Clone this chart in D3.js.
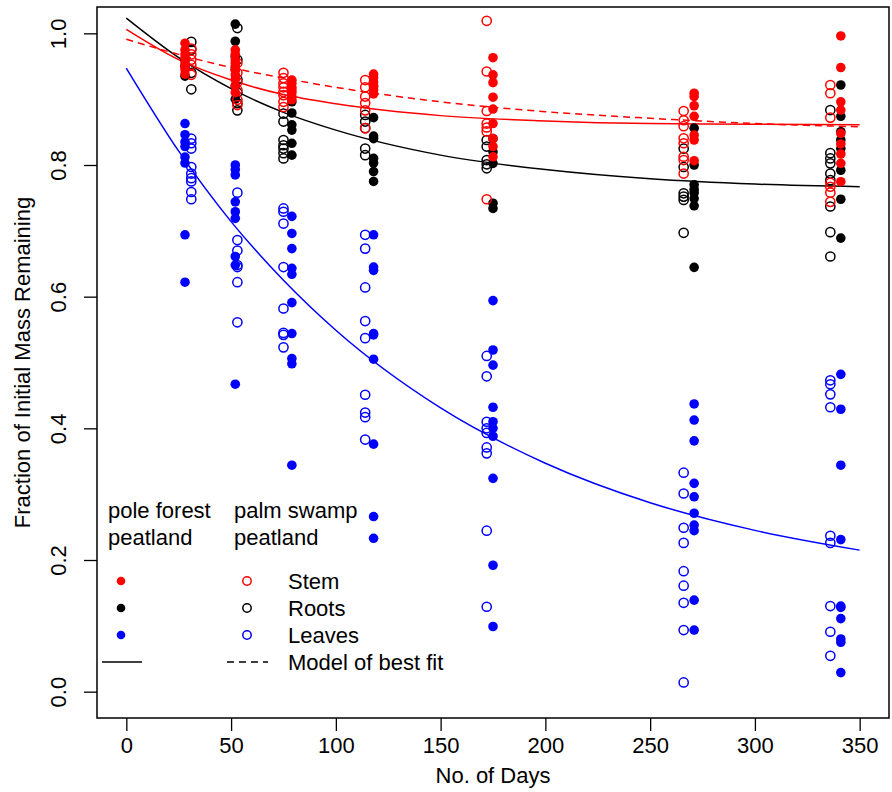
<!DOCTYPE html>
<html>
<head>
<meta charset="utf-8">
<script src="https://cdn.jsdelivr.net/npm/d3@7"></script>
<style>
  body { margin: 0; background: #fff; }
  text { font-family: "Liberation Sans", Arial, sans-serif; }
</style>
</head>
<body>
<svg id="graph" width="892" height="792"></svg>
<script>
// sampling days (pole forest points sit a little right of palm swamp points)
const poleDays = [28, 52, 79, 118, 175, 271, 341];
const swampDays = [31, 53, 75, 114, 172, 266, 336];

// fraction of initial mass remaining, one array per sampling date
const poleStem = [
  [0.985, 0.975, 0.968, 0.962, 0.955, 0.950, 0.945, 0.938],
  [0.975, 0.968, 0.960, 0.955, 0.950, 0.944, 0.937, 0.930, 0.920, 0.910],
  [0.929, 0.924, 0.918, 0.914, 0.910, 0.904, 0.899],
  [0.938, 0.933, 0.926, 0.920, 0.919, 0.914, 0.908],
  [0.963, 0.937, 0.925, 0.903, 0.885, 0.863, 0.840, 0.828, 0.8125],
  [0.909, 0.904, 0.890, 0.874, 0.8455, 0.838, 0.8065],
  [0.996, 0.948, 0.896, 0.8835, 0.848, 0.832, 0.8167, 0.8025, 0.7746]
];
const swampStem = [
  [0.977, 0.968, 0.960, 0.952, 0.937],
  [0.955, 0.940, 0.926, 0.914, 0.899, 0.891],
  [0.940, 0.932, 0.924, 0.918, 0.911, 0.906, 0.896, 0.888],
  [0.929, 0.918, 0.904, 0.894, 0.883, 0.856],
  [1.019, 0.942, 0.882, 0.863, 0.857, 0.851, 0.748],
  [0.882, 0.868, 0.859, 0.8405, 0.833, 0.8125, 0.8075, 0.787],
  [0.9215, 0.909, 0.872, 0.773, 0.767, 0.758, 0.744]
];
const poleRoots = [
  [0.960, 0.950, 0.935],
  [1.014, 0.988, 0.965, 0.945, 0.920, 0.900],
  [0.896, 0.879, 0.861, 0.853, 0.833, 0.815],
  [0.872, 0.844, 0.840, 0.810, 0.803, 0.790, 0.775],
  [0.840, 0.820, 0.8025, 0.742, 0.734],
  [0.856, 0.800, 0.770, 0.763, 0.758, 0.749, 0.738, 0.6445],
  [0.9215, 0.874, 0.8505, 0.838, 0.825, 0.792, 0.748, 0.689]
];
const swampRoots = [
  [0.987, 0.975, 0.940, 0.915],
  [1.008, 0.960, 0.930, 0.910, 0.894, 0.883],
  [0.878, 0.866, 0.838, 0.830, 0.825, 0.818, 0.810],
  [0.876, 0.866, 0.856, 0.825, 0.815],
  [0.838, 0.828, 0.8075, 0.801, 0.795],
  [0.825, 0.797, 0.757, 0.752, 0.747, 0.697],
  [0.8835, 0.818, 0.810, 0.8025, 0.787, 0.777, 0.737, 0.698, 0.661]
];
const poleLeaves = [
  [0.863, 0.846, 0.835, 0.828, 0.812, 0.803, 0.694, 0.622],
  [0.800, 0.793, 0.785, 0.744, 0.729, 0.719, 0.661, 0.648, 0.467],
  [0.722, 0.696, 0.673, 0.643, 0.634, 0.591, 0.544, 0.506, 0.498, 0.344],
  [0.694, 0.645, 0.640, 0.544, 0.542, 0.505, 0.376, 0.266, 0.233],
  [0.594, 0.519, 0.496, 0.432, 0.410, 0.400, 0.388, 0.324, 0.192, 0.099],
  [0.437, 0.4126, 0.381, 0.3164, 0.296, 0.271, 0.253, 0.2445, 0.139, 0.0936],
  [0.482, 0.429, 0.344, 0.231, 0.130, 0.128, 0.111, 0.080, 0.075, 0.029]
];
const swampLeaves = [
  [0.840, 0.833, 0.825, 0.797, 0.787, 0.780, 0.775, 0.759, 0.748],
  [0.758, 0.686, 0.670, 0.648, 0.645, 0.622, 0.561],
  [0.734, 0.729, 0.711, 0.645, 0.582, 0.545, 0.542, 0.523],
  [0.694, 0.673, 0.614, 0.563, 0.537, 0.451, 0.424, 0.417, 0.383],
  [0.510, 0.479, 0.410, 0.400, 0.393, 0.371, 0.362, 0.2445, 0.129],
  [0.3326, 0.301, 0.249, 0.226, 0.183, 0.161, 0.135, 0.0936, 0.014],
  [0.473, 0.467, 0.4516, 0.432, 0.2368, 0.226, 0.130, 0.091, 0.0545]
];

// model of best fit
const fitDays = [0, 25, 50, 75, 100, 150, 200, 250, 300, 350];
const fitRoots = [1.023, 0.963, 0.916, 0.880, 0.853, 0.815, 0.793, 0.779, 0.771, 0.767];
const fitStem = [1.006, 0.960, 0.929, 0.907, 0.893, 0.875, 0.867, 0.863, 0.862, 0.861];
const fitStemSwamp = [0.991, 0.968, 0.948, 0.932, 0.918, 0.896, 0.881, 0.871, 0.863, 0.858];
const fitLeaves = [0.947, 0.821, 0.714, 0.625, 0.549, 0.431, 0.347, 0.287, 0.245, 0.215];

const xTicks = [0, 50, 100, 150, 200, 250, 300, 350];
const yTicks = [0, 0.2, 0.4, 0.6, 0.8, 1.0];

//=================== SET UP SVG & SCALES ===================
let svg = d3.select("#graph"),
    x = d3.scaleLinear().domain([-14, 364]).range([97, 889]),
    y = d3.scaleLinear().domain([-0.04, 1.04]).range([718, 7]);

let fontSize = "22px";

//=================== FIT LINES ===================
let line = d3.line()
  .curve(d3.curveMonotoneX)
  .x(function(d) { return x(d[0]); })
  .y(function(d) { return y(d[1]); });

let fits = [
  {vals: fitLeaves, color: "#0000ff", dash: null},
  {vals: fitRoots, color: "#000", dash: null},
  {vals: fitStem, color: "#ff0000", dash: null},
  {vals: fitStemSwamp, color: "#ff0000", dash: "7,5"}
];

svg.selectAll(".fit")
  .data(fits)
  .enter().append("path")
    .attr("class", "fit")
    .attr("d", function(d) { return line(fitDays.map(function(t, i) { return [t, d.vals[i]]; })); })
    .attr("fill", "none")
    .attr("stroke", function(d) { return d.color; })
    .attr("stroke-width", 1.5)
    .attr("stroke-dasharray", function(d) { return d.dash; });

//=================== POINTS ===================
function flatten(days, groups) {
  let out = [];
  groups.forEach(function(g, i) {
    g.forEach(function(v) { out.push({day: days[i], v: v}); });
  });
  return out;
}

let series = [
  {data: poleRoots, days: poleDays, color: "#000", filled: true},
  {data: swampRoots, days: swampDays, color: "#000", filled: false},
  {data: poleStem, days: poleDays, color: "#ff0000", filled: true},
  {data: swampStem, days: swampDays, color: "#ff0000", filled: false},
  {data: poleLeaves, days: poleDays, color: "#0000ff", filled: true},
  {data: swampLeaves, days: swampDays, color: "#0000ff", filled: false}
];

series.forEach(function(s) {
  svg.append("g").selectAll("circle")
    .data(flatten(s.days, s.data))
    .enter().append("circle")
      .attr("cx", function(d) { return x(d.day); })
      .attr("cy", function(d) { return y(d.v); })
      .attr("r", s.filled ? 4.8 : 4.6)
      .attr("fill", s.filled ? s.color : "none")
      .attr("stroke", s.filled ? "none" : s.color)
      .attr("stroke-width", 1.5);
});

//=================== AXES ===================
let xAxis = svg.append("g")
  .attr("transform", "translate(0,718)")
  .call(d3.axisBottom(x).tickValues(xTicks).tickSize(13).tickPadding(6).tickSizeOuter(0));
xAxis.select(".domain").remove();
xAxis.selectAll("line").attr("stroke", "#000").attr("stroke-width", 1.3);
xAxis.selectAll("text").style("font-size", fontSize).attr("fill", "#000")
  .attr("font-family", "Liberation Sans, Arial, sans-serif");

let yAxis = svg.append("g")
  .attr("transform", "translate(97,0)")
  .call(d3.axisLeft(y).tickValues(yTicks).tickSize(13).tickFormat(d3.format(".1f")).tickSizeOuter(0));
yAxis.select(".domain").remove();
yAxis.selectAll("line").attr("stroke", "#000").attr("stroke-width", 1.3);
yAxis.selectAll("text")
  .attr("x", null).attr("dy", null)
  .attr("text-anchor", "middle")
  .attr("transform", "translate(-31,0) rotate(-90)")
  .attr("fill", "#000")
  .attr("font-family", "Liberation Sans, Arial, sans-serif")
  .style("font-size", fontSize);

// plot box
svg.append("rect")
  .attr("x", 97).attr("y", 7)
  .attr("width", 889 - 97).attr("height", 718 - 7)
  .attr("fill", "none").attr("stroke", "#000").attr("stroke-width", 1.5);

// axis titles
svg.append("text")
  .attr("x", (97 + 889) / 2).attr("y", 783)
  .attr("text-anchor", "middle")
  .style("font-size", fontSize)
  .text("No. of Days");

svg.append("text")
  .attr("transform", "translate(30," + ((7 + 718) / 2) + ") rotate(-90)")
  .attr("text-anchor", "middle")
  .style("font-size", fontSize)
  .text("Fraction of Initial Mass Remaining");

//=================== LEGEND ===================
let legendRows = ["Stem", "Roots", "Leaves"],
    legendColors = ["#ff0000", "#000", "#0000ff"],
    rowY = [581, 608, 635, 662];

let legend = svg.append("g").style("font-size", fontSize);

legend.append("text").attr("x", 108).attr("y", 518).text("pole forest");
legend.append("text").attr("x", 108).attr("y", 545).text("peatland");
legend.append("text").attr("x", 234).attr("y", 518).text("palm swamp");
legend.append("text").attr("x", 234).attr("y", 545).text("peatland");

legendRows.forEach(function(name, i) {
  legend.append("circle")
    .attr("cx", 121).attr("cy", rowY[i]).attr("r", 4.3)
    .attr("fill", legendColors[i]);
  legend.append("circle")
    .attr("cx", 247).attr("cy", rowY[i]).attr("r", 4.2)
    .attr("fill", "none").attr("stroke", legendColors[i]).attr("stroke-width", 1.5);
  legend.append("text")
    .attr("x", 288).attr("y", rowY[i] + 8)
    .text(name);
});

legend.append("line")
  .attr("x1", 102).attr("x2", 142).attr("y1", rowY[3]).attr("y2", rowY[3])
  .attr("stroke", "#000").attr("stroke-width", 1.5);
legend.append("line")
  .attr("x1", 227).attr("x2", 268).attr("y1", rowY[3]).attr("y2", rowY[3])
  .attr("stroke", "#000").attr("stroke-width", 1.5).attr("stroke-dasharray", "7,5");
legend.append("text")
  .attr("x", 288).attr("y", rowY[3] + 8)
  .text("Model of best fit");
</script>
</body>
</html>
